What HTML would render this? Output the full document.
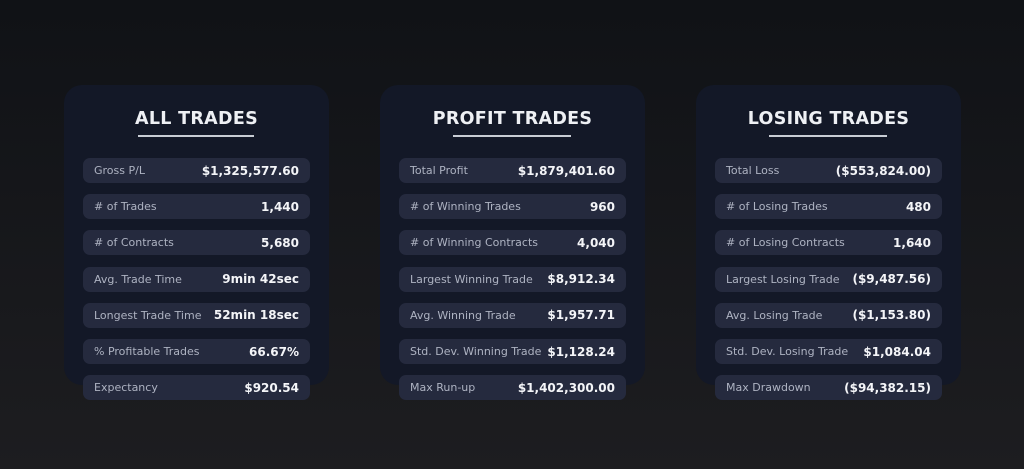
<!DOCTYPE html>
<html><head><meta charset="utf-8"><style>
*{margin:0;padding:0;box-sizing:border-box}
body{width:1024px;height:469px;overflow:hidden;background:linear-gradient(#101216,#1d1d20);font-family:"DejaVu Sans","Liberation Sans",sans-serif;position:relative}
.card{position:absolute;top:85px;width:265px;height:300px;border-radius:18px;background:#131827}
.t{position:absolute;top:109px;width:265px;text-align:center;color:#eef0f4;font-weight:bold;font-size:17.5px;letter-spacing:0.3px}
.u{position:absolute;top:135px;height:2px;background:#c8ccd4}
.r{position:absolute;width:227px;height:25px;border-radius:7px;background:#252a3e;display:flex;justify-content:space-between;align-items:center;padding:0 11px;white-space:nowrap}
.r span:first-child{color:#aeb3c2;font-size:11px}
.r span:last-child{color:#f4f5f8;font-weight:bold;font-size:12px}
</style></head><body>
<div class="card" style="left:64px"></div>
<div class="card" style="left:380px"></div>
<div class="card" style="left:696px"></div>
<div class="t" style="left:64px">ALL TRADES</div>
<div class="t" style="left:380px">PROFIT TRADES</div>
<div class="t" style="left:696px">LOSING TRADES</div>
<div class="u" style="left:138px;width:116px"></div>
<div class="u" style="left:453px;width:118px"></div>
<div class="u" style="left:769px;width:118px"></div>
<div id="c"></div>
<script>
var d=[[83,[["Gross P/L","$1,325,577.60"],["# of Trades","1,440"],["# of Contracts","5,680"],["Avg. Trade Time","9min 42sec"],["Longest Trade Time","52min 18sec"],["% Profitable Trades","66.67%"],["Expectancy","$920.54"]]],
[399,[["Total Profit","$1,879,401.60"],["# of Winning Trades","960"],["# of Winning Contracts","4,040"],["Largest Winning Trade","$8,912.34"],["Avg. Winning Trade","$1,957.71"],["Std. Dev. Winning Trade","$1,128.24"],["Max Run-up","$1,402,300.00"]]],
[715,[["Total Loss","($553,824.00)"],["# of Losing Trades","480"],["# of Losing Contracts","1,640"],["Largest Losing Trade","($9,487.56)"],["Avg. Losing Trade","($1,153.80)"],["Std. Dev. Losing Trade","$1,084.04"],["Max Drawdown","($94,382.15)"]]]];
var h="";d.forEach(function(c){c[1].forEach(function(r,i){h+='<div class="r" style="left:'+c[0]+'px;top:'+(158+i*36.2)+'px"><span>'+r[0]+'</span><span>'+r[1]+'</span></div>'})});
document.getElementById("c").innerHTML=h;
</script>
</body></html>
